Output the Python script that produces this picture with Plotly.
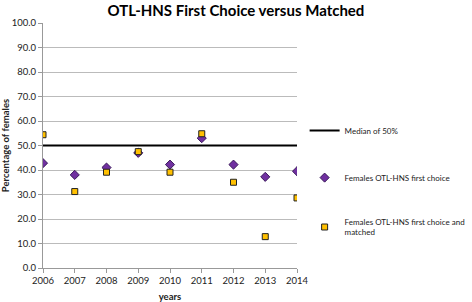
import plotly.graph_objects as go

years = [2006, 2007, 2008, 2009, 2010, 2011, 2012, 2013, 2014]
first_choice = [42.8, 38.0, 41.0, 47.0, 42.2, 53.0, 42.2, 37.2, 39.5]
first_choice_matched = [54.4, 31.2, 39.1, 47.5, 39.1, 54.8, 35.0, 12.8, 28.6]
median_value = 50
y_ticks = [0, 10, 20, 30, 40, 50, 60, 70, 80, 90, 100]

font = "Lato, Open Sans, sans-serif"

fig = go.Figure()
fig.add_trace(go.Scatter(
    x=[years[0], years[-1]], y=[median_value, median_value], mode="lines",
    line=dict(color="black", width=2), name="Median of 50%", legendgroup="a"))
fig.add_trace(go.Scatter(
    x=years, y=first_choice, mode="markers",
    marker=dict(symbol="diamond", size=7, color="#7030A0", line=dict(color="#3a1a5a", width=1)),
    name="Females OTL-HNS first choice", legendgroup="b"))
fig.add_trace(go.Scatter(
    x=years, y=first_choice_matched, mode="markers",
    marker=dict(symbol="square", size=6, color="#FFC000", line=dict(color="#222222", width=1)),
    name="Females OTL-HNS first choice and<br>matched", legendgroup="c"))

fig.update_layout(
    width=472, height=302,
    margin=dict(l=43, r=175, t=23, b=34, autoexpand=False),
    paper_bgcolor="white", plot_bgcolor="white",
    font=dict(family=font, size=9.5, color="#222"),
    title=dict(text="<b>OTL-HNS First Choice versus Matched</b>", x=0.5, xanchor="center",
               y=0.965, yanchor="middle", font=dict(size=15, color="black")),
    showlegend=True,
    legend=dict(x=1.03, xanchor="left", y=0.62, yanchor="top", tracegroupgap=28,
                font=dict(size=8), itemwidth=30, bgcolor="rgba(0,0,0,0)"),
    xaxis=dict(range=[years[0], years[-1]], tickvals=years, showgrid=False, tickangle=0,
               showline=True, linecolor="#999", ticks="outside", ticklen=4, tickcolor="#999",
               title=dict(text="<b>years</b>", font=dict(size=9.5), standoff=8),
               zeroline=False, tickfont=dict(size=9.5), automargin=False),
    yaxis=dict(range=[0, 100], tickvals=y_ticks, tickformat=".1f", showgrid=True,
               gridcolor="#bbbbbb", gridwidth=1, showline=True, linecolor="#999",
               ticks="outside", ticklen=4, tickcolor="#999", zeroline=False,
               title=dict(text="<b>Percentage of females</b>", font=dict(size=9.5), standoff=2),
               tickfont=dict(size=9.5), automargin=False),
)
fig.write_html("out.html", config={"displayModeBar": False},
               post_script="document.body.style.margin='0';")
